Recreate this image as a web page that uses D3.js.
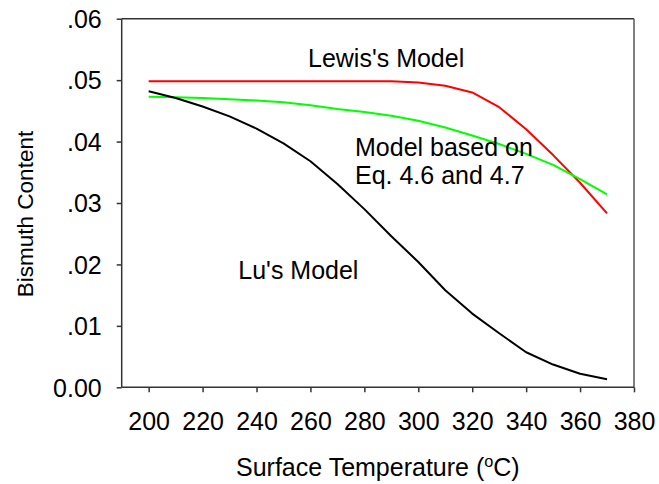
<!DOCTYPE html>
<html>
<head>
<meta charset="utf-8">
<script src="https://cdn.jsdelivr.net/npm/d3@7"></script>
<style>
  html, body { margin: 0; padding: 0; background: #fff; }
  svg { display: block; }
  text { font-family: "Liberation Sans", Arial, sans-serif; fill: #000; }
</style>
</head>
<body>
<div id="chart"></div>
<script>
// ---- Data ----
const temperatures = [200, 210, 220, 230, 240, 250, 260, 270, 280, 290, 300, 310, 320, 330, 340, 350, 360, 370];
const lewisModel = [0.0498, 0.0498, 0.0498, 0.0498, 0.0498, 0.0498, 0.0498, 0.0498, 0.0498, 0.0498, 0.0496, 0.0491, 0.0480, 0.0456, 0.0420, 0.0378, 0.0333, 0.0283];
const eqModel    = [0.0473, 0.0472, 0.0471, 0.0469, 0.0467, 0.0464, 0.0459, 0.0453, 0.0448, 0.0442, 0.0434, 0.0423, 0.0410, 0.0396, 0.0380, 0.0362, 0.0339, 0.0314];
const luModel    = [0.0482, 0.0471, 0.0457, 0.0441, 0.0421, 0.0397, 0.0368, 0.0331, 0.0290, 0.0246, 0.0204, 0.0158, 0.0120, 0.0088, 0.0057, 0.0037, 0.0022, 0.0013];
const xTicks = [200, 220, 240, 260, 280, 300, 320, 340, 360, 380];
const yTicks = [0, 0.01, 0.02, 0.03, 0.04, 0.05, 0.06];
const yTickLabels = ["0.00", ".01", ".02", ".03", ".04", ".05", ".06"];

(function () {
const W = 659, H = 484;
const pL = 121.7, pR = 634, pT = 18.7, pB = 387.3;

const svg = d3.select("#chart").append("svg").attr("width", W).attr("height", H);

const x = d3.scaleLinear().domain([190, 380]).range([pL, pR]);
const y = d3.scaleLinear().domain([0, 0.06]).range([pB, pT]);

const axisColor = "#333";
const fs = 25;

// Frame (top and right)
svg.append("line").attr("x1", pL).attr("x2", pR).attr("y1", pT).attr("y2", pT)
  .attr("stroke", axisColor).attr("stroke-width", 1.5);
svg.append("line").attr("x1", pR).attr("x2", pR).attr("y1", pT).attr("y2", pB)
  .attr("stroke", "#555").attr("stroke-width", 1.5);

// Y axis
const yAxis = d3.axisLeft(y).tickValues(yTicks).tickSize(5).tickPadding(15)
  .tickFormat((d, i) => yTickLabels[i]);
const gy = svg.append("g").attr("transform", `translate(${pL},0)`).call(yAxis);
gy.select(".domain").attr("stroke", axisColor).attr("stroke-width", 1.5).attr("d", `M0,${pT}V${pB}`);
gy.selectAll(".tick line").attr("stroke", axisColor).attr("stroke-width", 1.5);
gy.selectAll(".tick text").attr("font-size", fs).attr("font-family", "Liberation Sans, Arial, sans-serif").attr("fill", "#000").attr("dy", "0.35em");

// X axis
const xAxis = d3.axisBottom(x).tickValues(xTicks).tickSize(5).tickPadding(20);
const gx = svg.append("g").attr("transform", `translate(0,${pB})`).call(xAxis);
gx.select(".domain").attr("stroke", axisColor).attr("stroke-width", 1.5).attr("d", `M${pL},0H${pR}`);
gx.selectAll(".tick line").attr("stroke", axisColor).attr("stroke-width", 1.5);
gx.selectAll(".tick text").attr("font-size", fs).attr("font-family", "Liberation Sans, Arial, sans-serif").attr("fill", "#000").attr("dy", "0.71em");

// Lines
const series = [
  { values: lewisModel, color: "#ff0000" },
  { values: eqModel, color: "#00ff00" },
  { values: luModel, color: "#000000" }
];
const line = d3.line().x((d, i) => x(temperatures[i])).y(d => y(d)).curve(d3.curveLinear);
series.forEach(s => {
  svg.append("path").datum(s.values).attr("d", line)
    .attr("fill", "none").attr("stroke", s.color).attr("stroke-width", 2).attr("stroke-linejoin", "round");
});

// Annotations
svg.append("text").attr("x", 308).attr("y", 66.7).attr("font-size", fs).text("Lewis's Model");
svg.append("text").attr("x", 355).attr("y", 155.7).attr("font-size", fs).text("Model based on");
svg.append("text").attr("x", 355).attr("y", 184.3).attr("font-size", fs).text("Eq. 4.6 and 4.7");
svg.append("text").attr("x", 238.3).attr("y", 279).attr("font-size", fs).text("Lu's Model");

// Axis titles
const xt = svg.append("text").attr("x", (pL + pR) / 2).attr("y", 476)
  .attr("text-anchor", "middle").attr("font-size", fs);
xt.append("tspan").text("Surface Temperature (");
xt.append("tspan").attr("font-size", fs * 0.65).attr("dy", -9).text("o");
xt.append("tspan").attr("dy", 9).text("C)");

svg.append("text").attr("transform", `translate(33,214) rotate(-90)`)
  .attr("text-anchor", "middle").attr("font-size", 22.5).text("Bismuth Content");
})();
</script>
</body>
</html>
